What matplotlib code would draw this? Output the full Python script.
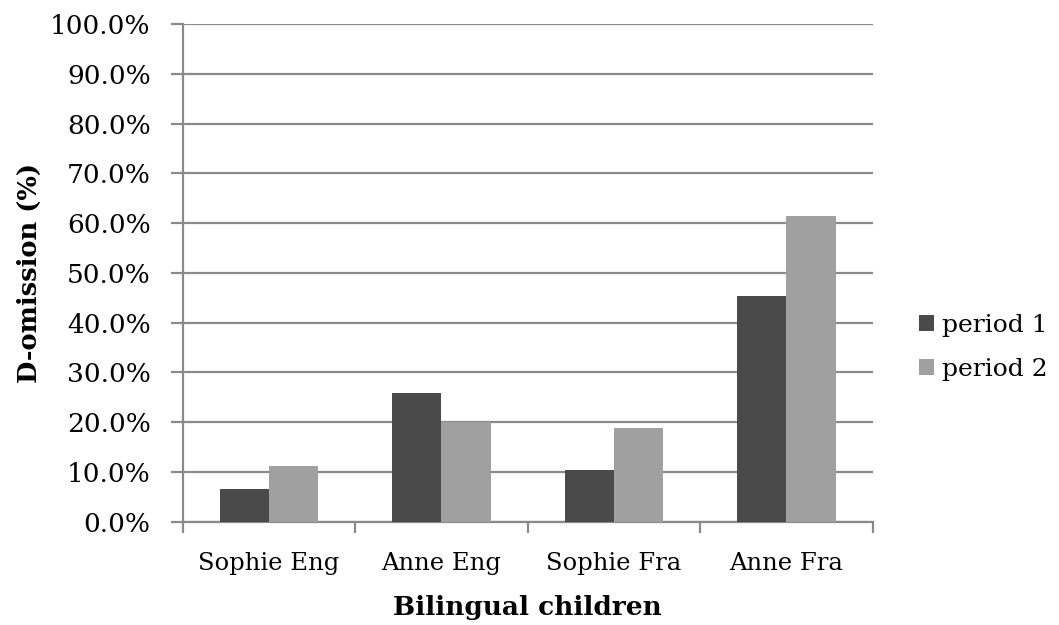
import numpy as np
import matplotlib
matplotlib.use('Agg')
import matplotlib.pyplot as plt
from matplotlib.ticker import PercentFormatter, FixedLocator

plt.rcParams['font.family'] = 'DejaVu Serif'

children = ['Sophie Eng', 'Anne Eng', 'Sophie Fra', 'Anne Fra']
period1 = [6.5, 25.9, 10.3, 45.3]
period2 = [11.1, 20.0, 18.8, 61.5]
series_names = ['period 1', 'period 2']

c1 = '#4a4a4a'
c2 = '#a0a0a0'
grid_c = '#8a8a8a'

fig = plt.figure(figsize=(10.59, 6.25), dpi=100)
ax = fig.add_axes([0.1725, 0.1653, 0.6516, 0.7963])

x = np.arange(len(children))
w = 0.2857
ax.bar(x - w/2, period1, w, color=c1, label=series_names[0], zorder=3)
ax.bar(x + w/2, period2, w, color=c2, label=series_names[1], zorder=3)

ax.set_xlim(-0.5, len(children) - 0.5)
ax.set_ylim(0, 100)
ax.set_yticks(np.arange(0, 101, 10))
ax.yaxis.set_major_formatter(PercentFormatter(decimals=1))
ax.yaxis.grid(True, color=grid_c, linewidth=1.6, zorder=0)

ax.set_xticks(x)
ax.set_xticklabels(children)
ax.xaxis.set_minor_locator(FixedLocator(np.arange(-0.5, len(children), 1)))
ax.tick_params(axis='x', which='major', length=0, pad=22, labelsize=17.5)
ax.tick_params(axis='x', which='minor', length=8, width=1.6, color=grid_c)
ax.tick_params(axis='y', length=9, width=1.6, color=grid_c, labelsize=19, pad=14)

for s in ['top', 'right']:
    ax.spines[s].set_visible(False)
for s in ['left', 'bottom']:
    ax.spines[s].set_color(grid_c)
    ax.spines[s].set_linewidth(1.6)

ax.set_xlabel('Bilingual children', fontsize=19, fontweight='bold', labelpad=14)
ax.set_ylabel('D-omission (%)', fontsize=18.5, fontweight='bold', labelpad=6)

ax.legend(loc='center left', bbox_to_anchor=(1.035, 0.35), frameon=False,
          fontsize=18, handlelength=0.6, handleheight=0.6, handletextpad=0.3,
          labelspacing=0.85)

fig.savefig('out.png', dpi=100)
